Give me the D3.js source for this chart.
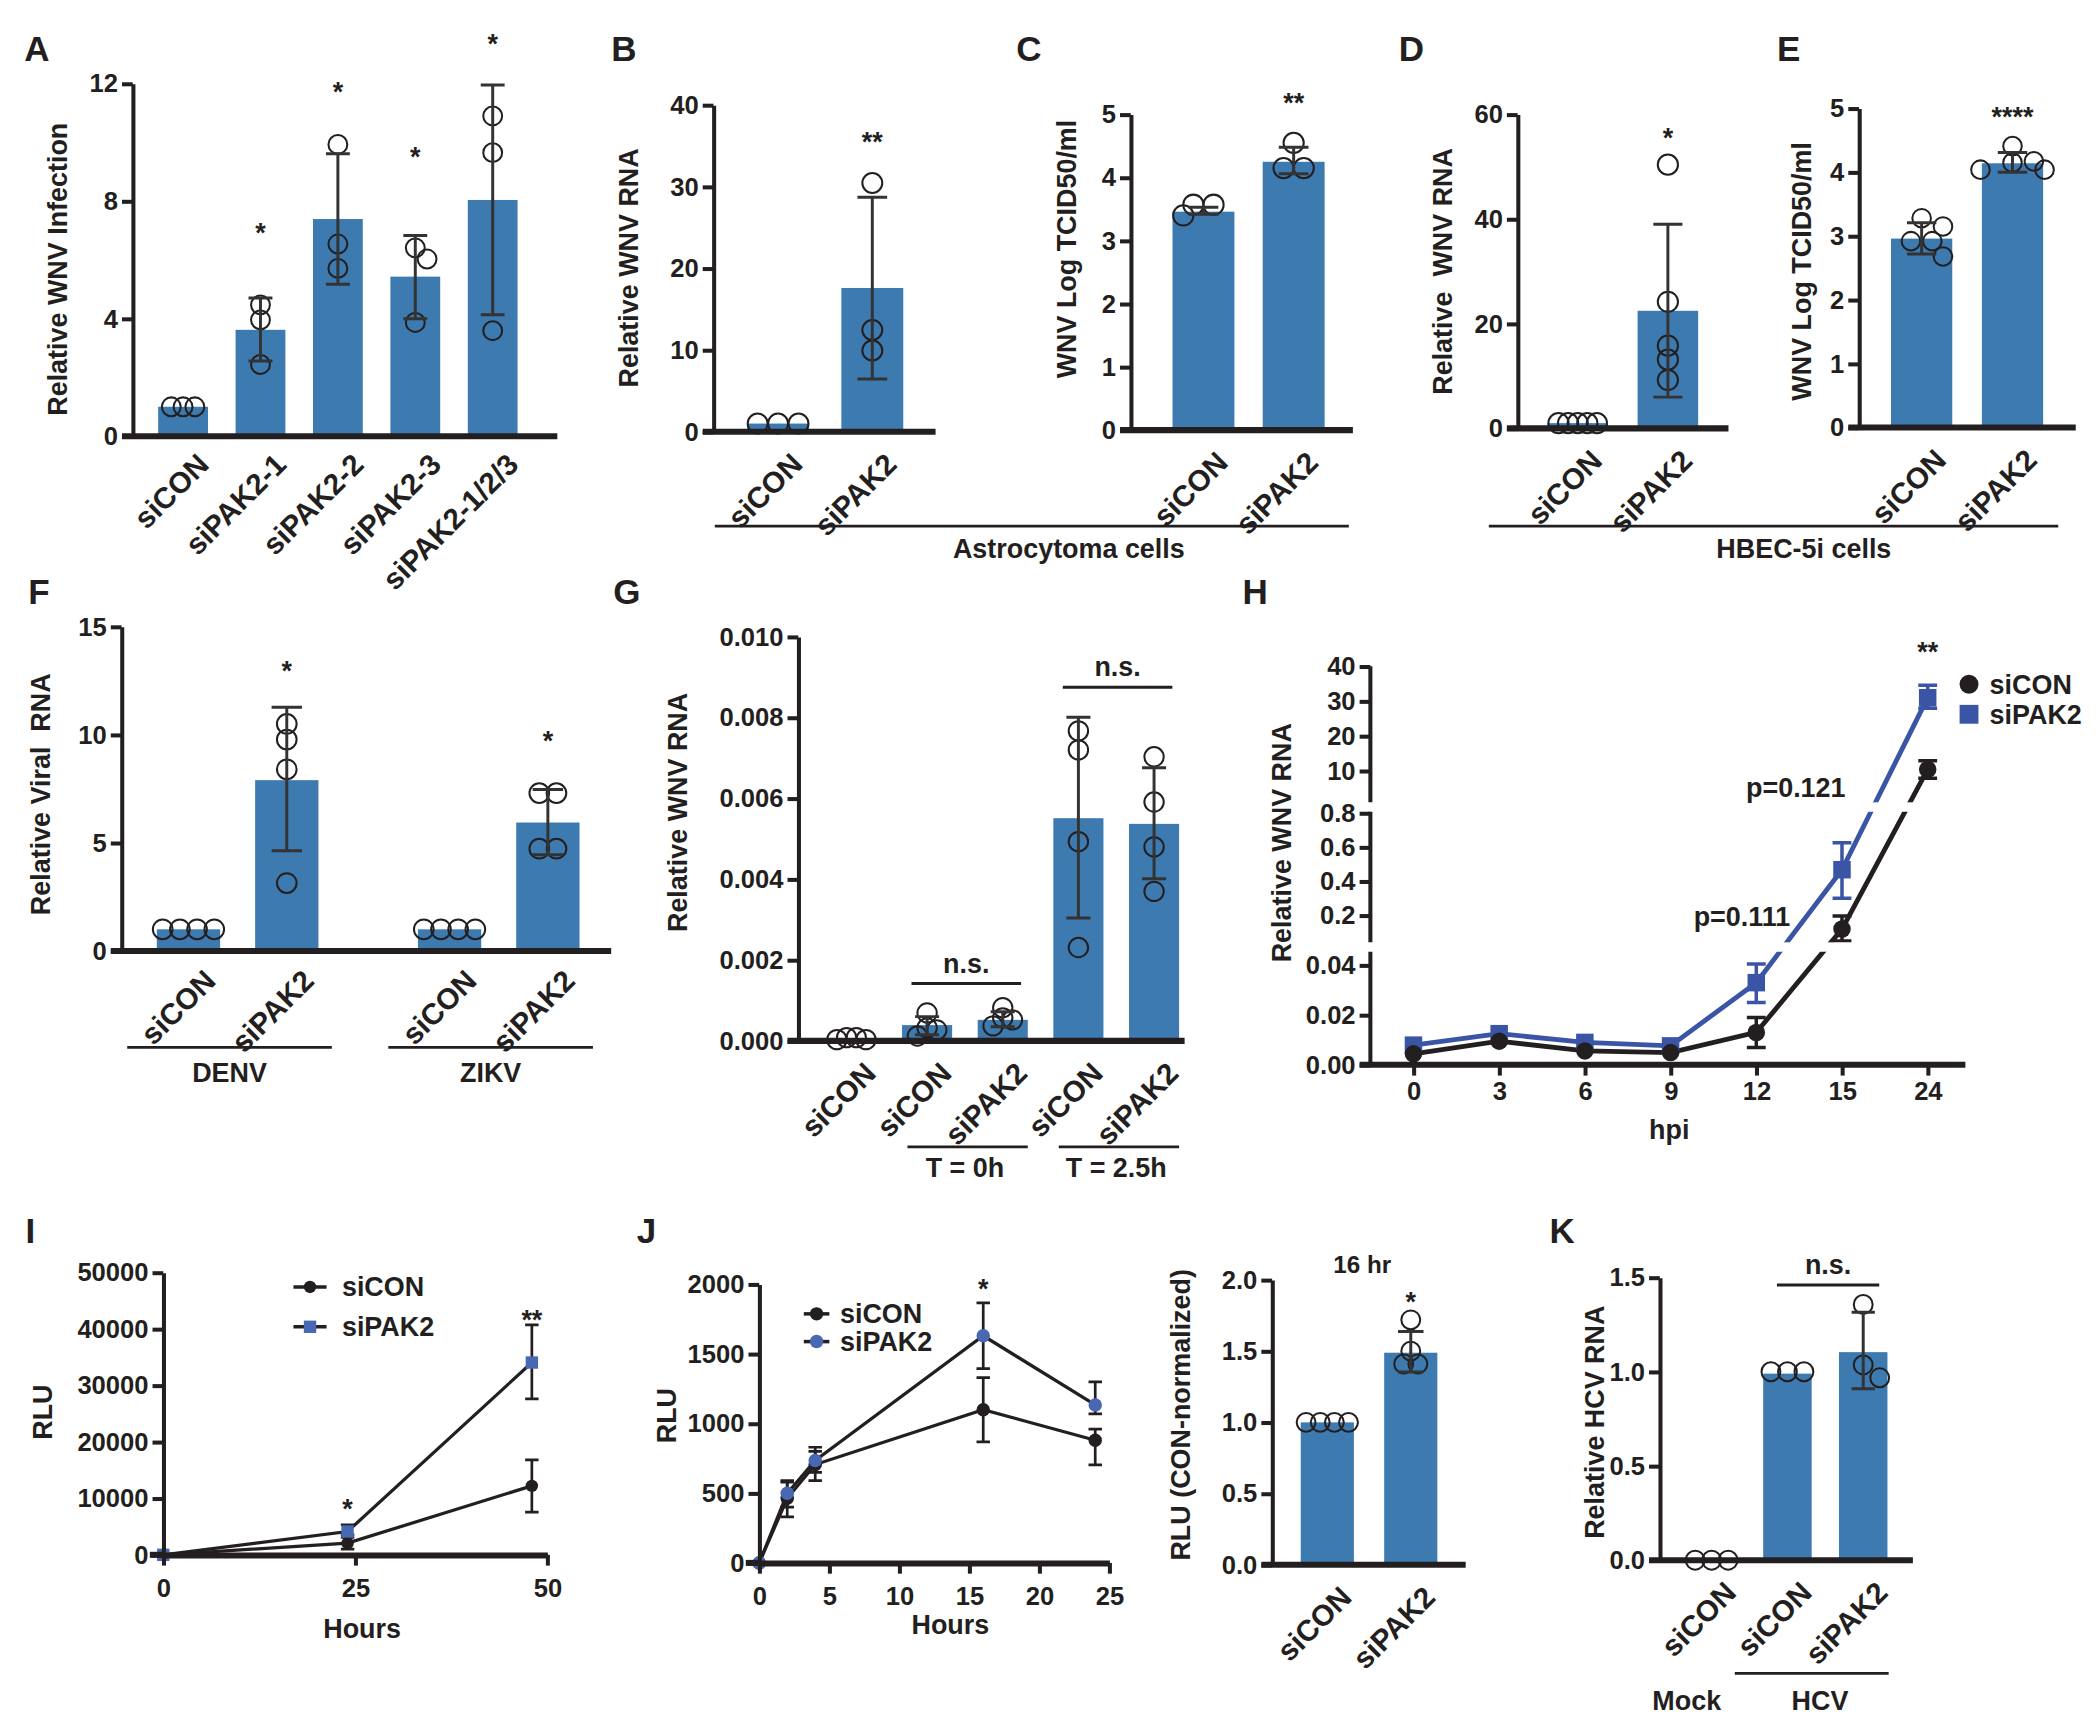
<!DOCTYPE html>
<html>
<head>
<meta charset="utf-8">
<script src="https://cdn.jsdelivr.net/npm/d3@7"></script>
<style>
  body { margin: 0; background: #fff; }
  svg text { fill: #231f20; }
</style>
</head>
<body>
<script>
// ---------- data ----------
const siCats = ['siCON', 'siPAK2'];

// A
const aCats = ['siCON', 'siPAK2-1', 'siPAK2-2', 'siPAK2-3', 'siPAK2-1/2/3'];
const aMean = [1.0, 3.62, 7.39, 5.43, 8.04];
const aLo = [1.0, 2.56, 5.17, 4.0, 4.13];
const aHi = [1.0, 4.7, 9.61, 6.83, 11.95];
const aPts = [[1, 1, 1], [4.47, 3.96, 2.44], [9.93, 6.54, 5.71], [6.41, 6.03, 3.87], [10.9, 9.65, 3.59]];
const aStars = ['', '*', '*', '*', '*'];
const aStarAt = [0, 7.1, 11.9, 9.7, 13.55];
const aTicks = [0, 4, 8, 12];

// B
const bMean = [1.0, 17.6];
const bLo = [1.0, 6.45];
const bHi = [1.0, 28.7];
const bPts = [[1, 1, 1], [30.45, 12.45, 9.95]];
const bStars = ['', '**'];
const bStarAt = [0, 36.2];
const bTicks = [0, 10, 20, 30, 40];

// C
const cMean = [3.46, 4.25];
const cLo = [3.42, 4.06];
const cHi = [3.53, 4.48];
const cPts = [[3.40, 3.57, 3.57], [4.55, 4.15, 4.15]];
const cStars = ['', '**'];
const cStarAt = [0, 5.28];
const cTicks = [0, 1, 2, 3, 4, 5];

// D
const dMean = [1.0, 22.47];
const dLo = [1.0, 5.97];
const dHi = [1.0, 39.0];
const dPts = [[1, 1, 1, 1, 1], [50.4, 24.2, 15.8, 13.15, 9.24]];
const dStars = ['', '*'];
const dStarAt = [0, 56.7];
const dTicks = [0, 20, 40, 60];

// E
const eMean = [2.96, 4.14];
const eLo = [2.72, 4.0];
const eHi = [3.21, 4.31];
const ePts = [[3.15, 3.28, 2.92, 2.92, 2.68], [4.41, 4.17, 4.15, 4.04, 4.04]];
const eStars = ['', '****'];
const eStarAt = [0, 4.96];
const eTicks = [0, 1, 2, 3, 4, 5];

// F
const fGroups = ['DENV', 'ZIKV'];
const fCats = ['siCON', 'siPAK2', 'siCON', 'siPAK2'];
const fMean = [1.0, 7.9, 1.0, 5.94];
const fLo = [1.0, 4.63, 1.0, 4.45];
const fHi = [1.0, 11.27, 1.0, 7.47];
const fPts = [[1, 1, 1, 1], [10.5, 9.78, 8.4, 3.14], [1, 1, 1, 1], [7.3, 7.3, 4.73, 4.73]];
const fStars = ['', '*', '', '*'];
const fStarAt = [0, 13.2, 0, 10.0];
const fTicks = [0, 5, 10, 15];

// G
const gCats = ['siCON', 'siCON', 'siPAK2', 'siCON', 'siPAK2'];
const gGroups = ['T = 0h', 'T = 2.5h'];
const gMean = [0.00004, 0.00039, 0.00052, 0.00551, 0.00537];
const gLo = [0.00004, 0.00015, 0.00035, 0.00304, 0.00401];
const gHi = [0.00004, 0.0006, 0.00072, 0.00801, 0.00676];
const gPts = [[0.00008, 0.00003, 0.00003, 0.00008], [0.00069, 0.00032, 0.00027, 0.00012],
  [0.00082, 0.00057, 0.00052, 0.00037], [0.00767, 0.0072, 0.00493, 0.00231], [0.00703, 0.00591, 0.0048, 0.0037]];
const gNsAt = [0.00142, 0.00875];
const gTicks = [0, 0.002, 0.004, 0.006, 0.008, 0.010];

// H
const hHours = ['0', '3', '6', '9', '12', '15', '24'];
const hCon = [0.0044, 0.0095, 0.0056, 0.0049, 0.013, 0.12, 10.4];
const hConLo = [0.0044, 0.0095, 0.0056, 0.0049, 0.007, 0.05, 7.9];
const hConHi = [0.0044, 0.0095, 0.0056, 0.0049, 0.019, 0.196, 12.9];
const hPak = [0.0079, 0.0125, 0.009, 0.0076, 0.033, 0.468, 31];
const hPakLo = [0.0079, 0.0125, 0.009, 0.0076, 0.025, 0.30, 28];
const hPakHi = [0.0079, 0.0125, 0.009, 0.0076, 0.0405, 0.626, 34.6];

// I
const iHours = [0, 24, 48];
const iCon = [0, 2070, 12220];
const iConLo = [0, 1000, 7560];
const iConHi = [0, 3070, 16820];
const iPak = [0, 4130, 34060];
const iPakLo = [0, 3540, 27630];
const iPakHi = [0, 5300, 40730];
const iStars = [{ h: 24, v: 10900, t: '*' }, { h: 48, v: 44300, t: '**' }];

// J (kinetics)
const jHours = [0, 2, 4, 16, 24];
const jCon = [0, 464, 706, 1100, 880];
const jConLo = [0, 330, 590, 868, 704];
const jConHi = [0, 590, 800, 1330, 960];
const jPak = [0, 500, 735, 1630, 1134];
const jPakLo = [0, 400, 650, 1395, 1069];
const jPakHi = [0, 580, 830, 1867, 1299];
const jStars = [{ h: 16, v: 2077, t: '*' }];

// J (16 hr)
const jbMean = [1.0, 1.489];
const jbLo = [1.0, 1.354];
const jbHi = [1.0, 1.638];
const jbPts = [[1, 1, 1, 1], [1.72, 1.50, 1.41, 1.41]];
const jbStars = ['', '*'];
const jbStarAt = [0, 1.886];

// K
const kCats = ['siCON', 'siCON', 'siPAK2'];
const kMean = [0, 0.99, 1.104];
const kLo = [0, 0.99, 0.91];
const kHi = [0, 0.99, 1.316];
const kPts = [[0, 0, 0], [1, 1, 1], [1.357, 1.036, 0.968]];
const kNsAt = 1.46;

// ---------- drawing ----------
const INK = '#231f20', BAR = '#3c7ab0', LINE_BLUE = '#3a55a5', MARK_BLUE = '#4868b4';
const FONT = '"Liberation Sans", Arial, Helvetica, sans-serif';

const svg = d3.select('body').append('svg')
  .attr('width', 2100).attr('height', 1725)
  .attr('viewBox', '0 0 1560 1281.4')
  .attr('font-family', FONT).attr('font-weight', 'bold');

function letter(t, x, y) {
  svg.append('text').attr('x', x).attr('y', y).attr('font-size', 26).text(t);
}
function yTitle(t, x, cy) {
  svg.append('text').attr('transform', `translate(${x},${cy}) rotate(-90)`)
    .attr('text-anchor', 'middle').attr('dy', '0.35em').attr('font-size', 20)
    .style('white-space', 'pre').text(t);
}
function label(t, x, cy, size = 20) {
  svg.append('text').attr('x', x).attr('y', cy).attr('dy', '0.35em')
    .attr('text-anchor', 'middle').attr('font-size', size).style('white-space', 'pre').text(t);
}
function hline(x1, x2, y, w = 2) {
  svg.append('line').attr('x1', x1).attr('x2', x2).attr('y1', y).attr('y2', y)
    .attr('stroke', INK).attr('stroke-width', w);
}
function styleAxis(ax, domainWidth = 3) {
  ax.attr('font-family', FONT).attr('font-size', 19).attr('font-weight', 'bold');
  ax.select('.domain').attr('stroke', INK).attr('stroke-width', domainWidth);
  ax.selectAll('.tick line').attr('stroke', INK).attr('stroke-width', 3);
  ax.selectAll('.tick text').attr('fill', INK);
}
function bandAt(n, c0, step, bw) {
  return d3.scaleBand().domain(d3.range(n))
    .range([c0 - bw / 2, c0 - bw / 2 + step * (n - 1) + bw])
    .paddingInner(1 - bw / step).paddingOuter(0);
}

// spread dots that sit at nearly the same height sideways, centred on the bar
function swarm(ys, s, th) {
  const placed = [];
  ys.slice().sort((a, b) => a - b).forEach(y => {
    for (let j = 0; ; j++) {
      const dx = j === 0 ? 0 : (j % 2 ? 1 : -1) * Math.ceil(j / 2) * s;
      if (placed.every(q => Math.abs(q.y - y) >= th || Math.abs(q.dx - dx) >= s - 0.01)) { placed.push({ y, dx }); break; }
    }
  });
  d3.groups(placed, d => Math.round(d.y)).forEach(([, grp]) => {
    if (grp.length > 1) {
      const m = d3.mean(grp, d => d.dx);
      grp.forEach(d => { d.dx -= m; });
    }
  });
  return placed;
}

function barPanel(p) {
  const g = svg.append('g');
  const y = d3.scaleLinear().domain(p.domain).range([p.yBot, p.yTop]);
  const idx = d3.range(p.means.length);
  const bw = p.bw, cx = i => p.x(i) + bw / 2;
  const r = p.r || 7.5;
  const s = r * (p.sp || 1.4);

  g.selectAll('rect.bar').data(idx).join('rect').attr('class', 'bar')
    .attr('x', i => p.x(i)).attr('width', bw)
    .attr('y', i => y(p.means[i])).attr('height', i => Math.max(0, y(0) - y(p.means[i])))
    .attr('fill', BAR);

  idx.forEach(i => {
    g.append('g').selectAll('circle').data(swarm(p.pts[i].map(y), s, p.th ?? s)).join('circle')
      .attr('cx', d => cx(i) + d.dx).attr('cy', d => d.y).attr('r', r)
      .attr('fill', 'none').attr('stroke', INK).attr('stroke-width', 1.5);
  });

  const cap = bw * 0.24;
  g.selectAll('path.err').data(idx.filter(i => p.hi[i] > p.lo[i])).join('path').attr('class', 'err')
    .attr('d', i => `M${cx(i)},${y(p.lo[i])}V${y(p.hi[i])}M${cx(i) - cap},${y(p.hi[i])}h${2 * cap}M${cx(i) - cap},${y(p.lo[i])}h${2 * cap}`)
    .attr('fill', 'none').attr('stroke', '#333').attr('stroke-width', 2.2);

  const ax = g.append('g').attr('transform', `translate(${p.axisX},0)`)
    .call(d3.axisLeft(y).tickValues(p.ticks).tickFormat(p.fmt).tickSize(8).tickSizeOuter(0).tickPadding(3));
  styleAxis(ax);
  g.append('line').attr('x1', p.axisX - 8).attr('x2', p.xEnd).attr('y1', y(0)).attr('y2', y(0))
    .attr('stroke', INK).attr('stroke-width', 4.5);

  g.selectAll('text.cat').data(idx).join('text').attr('class', 'cat')
    .attr('transform', i => `translate(${cx(i) + (p.ldx ?? 14)},${y(0) + (p.ldy ?? 20)}) rotate(-45)`)
    .attr('text-anchor', 'end').attr('dy', '0.35em').attr('font-size', 22)
    .text(i => p.cats[i]);

  if (p.stars) {
    g.selectAll('text.star').data(idx.filter(i => p.stars[i])).join('text').attr('class', 'star')
      .attr('x', cx).attr('y', i => y(p.starAt[i])).attr('dy', '0.55em').attr('text-anchor', 'middle')
      .attr('font-size', 20).text(i => p.stars[i]);
  }
  return { g, y, cx };
}

function bracket(x1, x2, yLine, text) {
  hline(x1, x2, yLine, 2.2);
  label(text, (x1 + x2) / 2, yLine - 15, 20);
}

// ---- row 1 ----
letter('A', 18, 45.5);
const bandA = bandAt(5, 136, 57.5, 37);
barPanel({ axisX: 98.6, xEnd: 414, yTop: 62.1, yBot: 324, domain: [0, 12], ticks: aTicks, fmt: d3.format('d'),
  x: bandA, bw: bandA.bandwidth(), cats: aCats, means: aMean, lo: aLo, hi: aHi, pts: aPts,
  stars: aStars, starAt: aStarAt, r: 7, sp: 1.25, th: 9, ldx: 15, ldy: 17 });
yTitle('Relative WNV Infection', 42.9, 200);

letter('B', 454, 45.5);
const bandB = bandAt(2, 578, 70, 46);
barPanel({ axisX: 530, xEnd: 695, yTop: 78, yBot: 320.7, domain: [0, 40], ticks: bTicks, fmt: d3.format('d'),
  x: bandB, bw: bandB.bandwidth(), cats: siCats, means: bMean, lo: bLo, hi: bHi, pts: bPts,
  stars: bStars, starAt: bStarAt, r: 7.4, sp: 2.05, th: 3 });
yTitle('Relative WNV RNA', 467, 199);

letter('C', 755, 45.5);
const bandC = bandAt(2, 894, 67, 46);
barPanel({ axisX: 840, xEnd: 1005, yTop: 85, yBot: 319.5, domain: [0, 5], ticks: cTicks, fmt: d3.format('d'),
  x: bandC, bw: bandC.bandwidth(), cats: siCats, means: cMean, lo: cLo, hi: cHi, pts: cPts,
  stars: cStars, starAt: cStarAt, r: 7.5, sp: 2.0, th: 12 });
yTitle('WNV Log TCID50/ml', 792.5, 185);
hline(531, 1002, 390.8, 2);
label('Astrocytoma cells', 794, 407.4);

letter('D', 1039, 45.5);
const bandD = bandAt(2, 1172, 67, 45);
barPanel({ axisX: 1127.4, xEnd: 1284, yTop: 85, yBot: 318.2, domain: [0, 60], ticks: dTicks, fmt: d3.format('d'),
  x: bandD, bw: bandD.bandwidth(), cats: siCats, means: dMean, lo: dLo, hi: dHi, pts: dPts,
  stars: dStars, starAt: dStarAt, r: 7.5, sp: 0.95, th: 3 });
yTitle('Relative  WNV RNA', 1071.5, 201.6);

letter('E', 1320, 45.5);
const bandE = bandAt(2, 1427.5, 67.5, 45.5);
barPanel({ axisX: 1381, xEnd: 1542, yTop: 80.5, yBot: 317.6, domain: [0, 5], ticks: eTicks, fmt: d3.format('d'),
  x: bandE, bw: bandE.bandwidth(), cats: siCats, means: eMean, lo: eLo, hi: eHi, pts: ePts,
  stars: eStars, starAt: eStarAt, r: 6.9, sp: 2.3, th: 12 });
yTitle('WNV Log TCID50/ml', 1338, 201.6);
hline(1106, 1529, 390.8, 2);
label('HBEC-5i cells', 1340, 407.4);

// ---- row 2 ----
letter('F', 21, 449);
const fOuter = d3.scaleBand().domain(fGroups).range([97, 450]).paddingInner(0.18);
const fInner = d3.scaleBand().domain(d3.range(2)).range([0, fOuter.bandwidth()]).paddingInner(0.356).paddingOuter(0.267);
const fX = i => fOuter(fGroups[Math.floor(i / 2)]) + fInner(i % 2);
const F = barPanel({ axisX: 90.3, xEnd: 454, yTop: 465.5, yBot: 706.4, domain: [0, 15], ticks: fTicks, fmt: d3.format('d'),
  x: fX, bw: fInner.bandwidth(), cats: fCats, means: fMean, lo: fLo, hi: fHi, pts: fPts,
  stars: fStars, starAt: fStarAt, r: 7.3, sp: 1.75, th: 3, ldx: 16, ldy: 18 });
yTitle('Relative Viral  RNA', 30.1, 590);
fGroups.forEach((grp, k) => {
  const mid = (F.cx(2 * k) + F.cx(2 * k + 1)) / 2 - 6;
  hline(mid - 76, mid + 76, 778, 2);
  label(grp, mid, 797);
});

letter('G', 455.5, 449);
const bandG = bandAt(5, 632.5, 56.2, 37.2);
const G = barPanel({ axisX: 593, xEnd: 880, yTop: 473, yBot: 773.2, domain: [0, 0.010], ticks: gTicks, fmt: d3.format('.3f'),
  x: bandG, bw: bandG.bandwidth(), cats: gCats, means: gMean, lo: gLo, hi: gHi, pts: gPts, r: 7.2, sp: 1.0, th: 7 });
yTitle('Relative WNV RNA', 503.7, 603.5);
gGroups.forEach((grp, k) => {
  const a = bandG(1 + 2 * k), b = bandG(2 + 2 * k) + bandG.bandwidth();
  hline(a + 4, b, 852, 2);
  label(grp, (a + b) / 2, 867);
  bracket(a + 7, b - 5, G.y(gNsAt[k]), 'n.s.');
});

// H: broken y axis
letter('H', 923, 449);
(function () {
  const g = svg.append('g');
  const axisX = 1018, xEnd = 1460;
  const x = d3.scalePoint().domain(hHours).range([1050, 1432]);
  const segs = [
    { s: d3.scaleLinear().domain([0, 0.04]).range([791, 717]), ext: [791, 707], ticks: [0, 0.02, 0.04], fmt: d3.format('.2f') },
    { s: d3.scaleLinear().domain([0.2, 0.8]).range([680, 604]), ext: [700, 603], ticks: [0.2, 0.4, 0.6, 0.8], fmt: d3.format('.1f') },
    { s: d3.scaleLinear().domain([10, 40]).range([572.6, 495]), ext: [596, 495], ticks: [10, 20, 30, 40], fmt: d3.format('d') }
  ];
  const hy = v => (v <= 0.045 ? segs[0] : v <= 0.85 ? segs[1] : segs[2]).s(v);
  const series = [
    { v: hPak, lo: hPakLo, hi: hPakHi, c: LINE_BLUE, m: 'square' },
    { v: hCon, lo: hConLo, hi: hConHi, c: INK, m: 'circle' }
  ];
  const line = d3.line().x((d, i) => x(hHours[i])).y(d => hy(d));
  series.forEach(s => {
    g.append('path').attr('d', line(s.v)).attr('fill', 'none').attr('stroke', s.c).attr('stroke-width', 3.6);
    g.append('g').selectAll('path').data(d3.range(s.v.length).filter(i => s.hi[i] > s.lo[i])).join('path')
      .attr('d', i => { const cx = x(hHours[i]), c = 7; return `M${cx},${hy(s.lo[i])}V${hy(s.hi[i])}M${cx - c},${hy(s.hi[i])}h${2 * c}M${cx - c},${hy(s.lo[i])}h${2 * c}`; })
      .attr('fill', 'none').attr('stroke', s.c).attr('stroke-width', 2.6);
  });
  // white bands where the axis is broken
  [[segs[1].ext[0], segs[0].ext[1]], [segs[2].ext[0], segs[1].ext[1]]].forEach(([a, b]) => {
    g.append('rect').attr('x', axisX + 2).attr('width', xEnd - axisX).attr('y', a).attr('height', b - a).attr('fill', '#fff');
  });
  series.forEach(s => {
    if (s.m === 'circle') {
      g.append('g').selectAll('circle').data(s.v).join('circle')
        .attr('cx', (d, i) => x(hHours[i])).attr('cy', d => hy(d)).attr('r', 6.5).attr('fill', s.c);
    } else {
      g.append('g').selectAll('rect').data(s.v).join('rect')
        .attr('x', (d, i) => x(hHours[i]) - 6.5).attr('y', d => hy(d) - 6.5)
        .attr('width', 13).attr('height', 13).attr('fill', s.c);
    }
  });
  segs.forEach(sg => {
    const ax = g.append('g').attr('transform', `translate(${axisX},0)`)
      .call(d3.axisLeft(sg.s).tickValues(sg.ticks).tickFormat(sg.fmt).tickSize(8).tickSizeOuter(0).tickPadding(3));
    styleAxis(ax);
    ax.select('.domain').remove();
    g.append('line').attr('x1', axisX).attr('x2', axisX).attr('y1', sg.ext[0]).attr('y2', sg.ext[1])
      .attr('stroke', INK).attr('stroke-width', 3);
  });
  const xa = g.append('g').attr('transform', `translate(0,${segs[0].ext[0]})`)
    .call(d3.axisBottom(x).tickSize(8).tickSizeOuter(0).tickPadding(5));
  styleAxis(xa);
  xa.select('.domain').remove();
  g.append('line').attr('x1', axisX - 8).attr('x2', xEnd).attr('y1', segs[0].ext[0]).attr('y2', segs[0].ext[0])
    .attr('stroke', INK).attr('stroke-width', 4.5);

  label('**', x('24'), hy(40) - 11, 20);
  label('p=0.121', 1334, 585, 20);
  label('p=0.111', 1294, 681, 20);
  // legend
  g.append('circle').attr('cx', 1462.7).attr('cy', 508.3).attr('r', 7).attr('fill', INK);
  g.append('rect').attr('x', 1462.7 - 7).attr('y', 530.6 - 7).attr('width', 14).attr('height', 14).attr('fill', LINE_BLUE);
  ['siCON', 'siPAK2'].forEach((t, k) => {
    g.append('text').attr('x', 1478).attr('y', [508.3, 530.6][k]).attr('dy', '0.35em').attr('font-size', 20).text(t);
  });
})();
yTitle('Relative WNV RNA', 952, 626);
label('hpi', 1240, 839);

// ---- row 3 ----
function drawMarker(g, shape, fill, xs, ys, size) {
  if (shape === 'circle') {
    g.append('g').selectAll('circle').data(xs).join('circle')
      .attr('cx', d => d).attr('cy', (d, i) => ys[i]).attr('r', size).attr('fill', fill);
  } else {
    g.append('g').selectAll('rect').data(xs).join('rect')
      .attr('x', d => d - size).attr('y', (d, i) => ys[i] - size)
      .attr('width', 2 * size).attr('height', 2 * size).attr('fill', fill);
  }
}

function lineChart(p) {
  const g = svg.append('g');
  const { x, y } = p;
  const line = d3.line().x((d, i) => x(p.hours[i])).y(d => y(d));
  p.series.forEach(s => g.append('path').attr('d', line(s.v)).attr('fill', 'none').attr('stroke', INK).attr('stroke-width', 2.4));
  p.series.forEach(s => {
    g.append('g').selectAll('path').data(d3.range(s.v.length).filter(i => s.hi[i] > s.lo[i])).join('path')
      .attr('d', i => { const cx = x(p.hours[i]), c = 5; return `M${cx},${y(s.lo[i])}V${y(s.hi[i])}M${cx - c},${y(s.hi[i])}h${2 * c}M${cx - c},${y(s.lo[i])}h${2 * c}`; })
      .attr('fill', 'none').attr('stroke', INK).attr('stroke-width', 2);
  });
  p.series.forEach(s => drawMarker(g, s.shape, s.fill, p.hours.map(x), s.v.map(y), s.size));

  const axisX = x.range()[0];
  const ya = g.append('g').attr('transform', `translate(${axisX},0)`)
    .call(d3.axisLeft(y).tickValues(p.yTicks).tickSize(8).tickSizeOuter(0).tickPadding(3).tickFormat(d3.format('d')));
  styleAxis(ya);
  const xa = g.append('g').attr('transform', `translate(0,${y(0)})`)
    .call(d3.axisBottom(x).tickValues(p.xTicks).tickSize(8).tickSizeOuter(0).tickPadding(10).tickFormat(d3.format('d')));
  styleAxis(xa, 4.5);
  g.append('line').attr('x1', axisX - 10).attr('x2', axisX).attr('y1', y(0)).attr('y2', y(0))
    .attr('stroke', INK).attr('stroke-width', 4.5);

  p.stars.forEach(s => label(s.t, x(s.h), y(s.v) + 11, 20));

  // legend
  p.series.forEach((s, k) => {
    const ly = p.legend.ys[k];
    g.append('line').attr('x1', p.legend.x - p.legend.half).attr('x2', p.legend.x + p.legend.half)
      .attr('y1', ly).attr('y2', ly).attr('stroke', INK).attr('stroke-width', 2.6);
    drawMarker(g, s.shape, s.fill, [p.legend.x], [ly], s.size);
    g.append('text').attr('x', p.legend.tx).attr('y', ly).attr('dy', '0.35em').attr('font-size', 20).text(p.names[k]);
  });
}

letter('I', 19, 923);
lineChart({
  x: d3.scaleLinear().domain([0, 50]).range([121.3, 406.5]),
  y: d3.scaleLinear().domain([0, 50000]).range([1155, 945.3]),
  hours: iHours, xTicks: [0, 25, 50], yTicks: d3.range(0, 50001, 10000),
  series: [
    { v: iCon, lo: iConLo, hi: iConHi, shape: 'circle', fill: INK, size: 4.6 },
    { v: iPak, lo: iPakLo, hi: iPakHi, shape: 'square', fill: MARK_BLUE, size: 4.6 }
  ],
  names: siCats, stars: iStars,
  legend: { x: 230.3, half: 12.3, tx: 254, ys: [956, 985.6] }
});
yTitle('RLU', 31.7, 1049);
label('Hours', 269, 1209.7);

letter('J', 473, 923);
lineChart({
  x: d3.scaleLinear().domain([0, 25]).range([564, 824]),
  y: d3.scaleLinear().domain([0, 2000]).range([1161, 954]),
  hours: jHours, xTicks: d3.range(0, 26, 5), yTicks: d3.range(0, 2001, 500),
  series: [
    { v: jCon, lo: jConLo, hi: jConHi, shape: 'circle', fill: INK, size: 5 },
    { v: jPak, lo: jPakLo, hi: jPakHi, shape: 'circle', fill: MARK_BLUE, size: 5 }
  ],
  names: siCats, stars: jStars,
  legend: { x: 606.6, half: 9.5, tx: 624, ys: [976, 996.6] }
});
yTitle('RLU', 495.5, 1051.6);
label('Hours', 706, 1207);

const bandJ = bandAt(2, 986, 62, 39.5);
barPanel({ axisX: 945, xEnd: 1088.8, yTop: 950.8, yBot: 1162.4, domain: [0, 2], ticks: [0, 0.5, 1, 1.5, 2], fmt: d3.format('.1f'),
  x: bandJ, bw: bandJ.bandwidth(), cats: siCats, means: jbMean, lo: jbLo, hi: jbHi, pts: jbPts,
  stars: jbStars, starAt: jbStarAt, r: 7, sp: 1.5, th: 6 });
yTitle('RLU (CON-normalized)', 877, 1051);
label('16 hr', 1012, 939, 18);

letter('K', 1151, 923);
const bandK = bandAt(3, 1271.5, 56.3, 36);
const K = barPanel({ axisX: 1233, xEnd: 1421, yTop: 949, yBot: 1159, domain: [0, 1.5], ticks: [0, 0.5, 1, 1.5], fmt: d3.format('.1f'),
  x: bandK, bw: bandK.bandwidth(), cats: kCats, means: kMean, lo: kLo, hi: kHi, pts: kPts, r: 7, sp: 1.75, th: 11 });
yTitle('Relative HCV RNA', 1184.7, 1056.5);
bracket(1320, 1396, K.y(kNsAt), 'n.s.');
hline(1288.7, 1403, 1243, 2);
label('Mock', 1253, 1263);
label('HCV', 1352, 1263);
</script>
</body>
</html>
